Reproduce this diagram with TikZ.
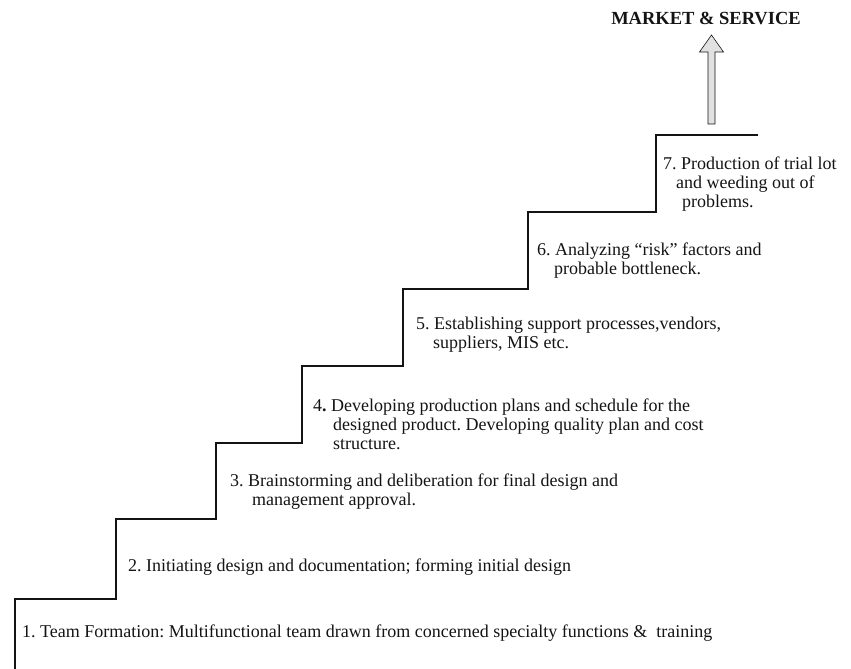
\documentclass[tikz,border=0pt]{standalone}
\usepackage{fontspec}
\setmainfont{Liberation Serif}
\usepackage{tikz}
\usetikzlibrary{positioning}
\definecolor{stairink}{RGB}{20,20,20}
\definecolor{arrowfill}{RGB}{225,225,225}
\tikzset{
  stair/.style={line width=2.8pt, color=stairink, line join=miter},
  steptext/.style={anchor=base west, inner sep=0pt, align=left,
    font=\frenchspacing\fontsize{18}{19}\selectfont, text=stairink},
  goal/.style={font=\bfseries\fontsize{18.5}{20}\selectfont, text=stairink, inner sep=0pt},
  blockarrow/.style={draw=stairink, fill=arrowfill, line width=0.6pt, line join=miter}
}
\begin{document}
\begin{tikzpicture}[x=1pt, y=1pt]
  \useasboundingbox (0,0) rectangle (851,669);

  % Stairs
  \draw[stair] (15,0) |- (116,70) |- (216,150) |- (302,226) |- (403,303)
    |- (528,380) |- (656,457) |- (758,534);

  % Steps (anchored on the baseline of the last line)
  \node[steptext] (s1) at (22,31) {1. Team Formation: Multifunctional team drawn from concerned specialty functions \&\ \ training};
  \node[steptext] (s2) at (128,97) {2. Initiating design and documentation; forming initial design};
  \node[steptext] (s3) at (230,163) {3. Brainstorming and deliberation for final design and\\\hspace*{22pt}management approval.};
  \node[steptext] (s4) at (313,219) {4\textbf{.} Developing production plans and schedule for the\\\hspace*{20pt}designed product. Developing quality plan and cost\\\hspace*{20pt}structure.};
  \node[steptext] (s5) at (416,320) {5. Establishing support processes,vendors,\\\hspace*{17pt}suppliers, MIS etc.};
  \node[steptext] (s6) at (537,394) {6. Analyzing ``risk'' factors and\\\hspace*{17pt}probable bottleneck.};
  \node[steptext] (s7) at (663,461) {7. Production of trial lot\\\hspace*{13pt}and weeding out of\\\hspace*{19pt}problems.};

  % Goal
  \node[goal] (market) at (706,651) {MARKET \& SERVICE};
  \coordinate (foot) at (711.5,545);
  \draw[blockarrow] (foot) ++(-3.5,0) -- ++(0,72) -- ++(-8.5,0) -- ++(12,17)
    -- ++(12,-17) -- ++(-8.5,0) -- ++(0,-72) -- cycle;
\end{tikzpicture}
\end{document}
